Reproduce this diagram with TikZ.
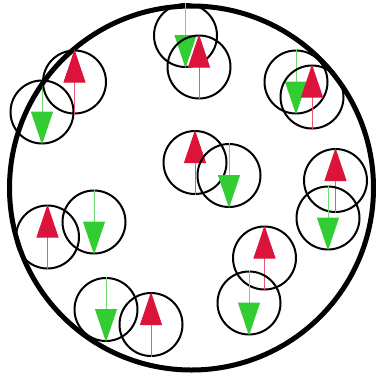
\documentclass[tikz,border=0pt]{standalone}
\usetikzlibrary{arrows.meta}
\definecolor{spinred}{HTML}{DC143C}
\definecolor{spingreen}{HTML}{32CD32}
\tikzset{
  ring/.style={circle, draw=black, line width=2pt, inner sep=0pt, minimum size=63pt},
  upspin/.style={draw=spinred!70, line width=1pt, -{Triangle[length=33pt,width=22pt,color=spinred]}},
  downspin/.style={draw=spingreen!70, line width=1pt, -{Triangle[length=33pt,width=22pt,color=spingreen]}},
  outer/.style={circle, draw=black, line width=5pt, inner sep=0pt, minimum size=364pt}
}
\newcommand{\redspin}[3]{%
  \node[ring] (#1) at (#2,#3) {};
  \draw[upspin] (#1.south) -- (#1.north);}
\newcommand{\greenspin}[3]{%
  \node[ring] (#1) at (#2,#3) {};
  \draw[downspin] (#1.north) -- (#1.south);}
\begin{document}
\begin{tikzpicture}[x=1pt,y=-1pt]
\useasboundingbox (0,0) rectangle (380,376);
\node[outer] (big) at (191.5,188) {};
% pair A
\greenspin{gA}{42}{112}
\redspin{rA}{74.5}{82}
% pair B
\greenspin{gB}{185.5}{35.5}
\redspin{rB}{199}{67}
% pair C
\greenspin{gC}{296}{82}
\redspin{rC}{312}{97}
% pair D
\redspin{rD}{335.5}{180.5}
\greenspin{gD}{328}{218}
% pair E
\redspin{rE}{264.5}{258}
\greenspin{gE}{249}{303}
% pair F
\redspin{rF}{195}{162.5}
\greenspin{gF}{229}{175.5}
% pair G
\redspin{rG}{47.5}{237}
\greenspin{gG}{94}{222}
% pair H
\greenspin{gH}{106}{309.5}
\redspin{rH}{151}{324.5}
\end{tikzpicture}
\end{document}
